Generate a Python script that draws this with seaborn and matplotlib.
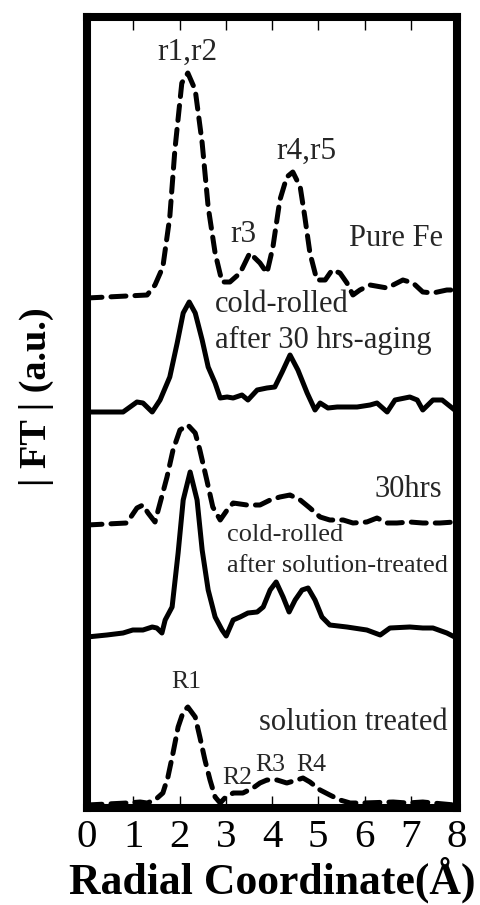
import matplotlib
matplotlib.use("Agg")
import matplotlib.pyplot as plt
import seaborn as sns
import pandas as pd

# ---- data (radial coordinate in Å, |FT| in a.u. with vertical offsets) ----
pure_fe_x = [0.0, 1.30, 1.47, 1.64, 1.79, 1.90, 2.05, 2.18, 2.34, 2.49, 2.62, 2.77, 2.92, 3.09, 3.31,
             3.52, 3.74, 3.89, 4.02, 4.17, 4.32, 4.45, 4.61, 4.71, 4.82, 4.97, 5.15, 5.30, 5.47, 5.62,
             5.75, 5.90, 6.12, 6.49, 6.83, 7.05, 7.26, 7.48, 7.78, 7.95]
pure_fe_y = [51.0, 51.3, 52.3, 54.1, 59.1, 65.8, 72.5, 73.5, 71.8, 66.5, 60.1, 55.5, 52.6, 52.6, 53.5,
             55.5, 54.5, 53.5, 56.1, 60.8, 63.1, 63.6, 62.1, 59.1, 55.5, 52.8, 52.8, 53.8, 53.5, 52.5,
             51.3, 51.8, 52.3, 52.0, 52.8, 52.5, 51.6, 51.5, 51.8, 51.8]

aged_x = [0.0, 0.78, 1.08, 1.21, 1.41, 1.58, 1.79, 1.95, 2.08, 2.21, 2.34, 2.49, 2.62, 2.77, 2.88,
          3.03, 3.16, 3.35, 3.48, 3.68, 3.89, 4.06, 4.22, 4.39, 4.56, 4.76, 4.93, 5.04, 5.21, 5.41,
          5.62, 5.84, 6.12, 6.27, 6.49, 6.66, 6.98, 7.14, 7.26, 7.48, 7.68, 7.95]
aged_y = [39.6, 39.6, 40.6, 40.5, 39.6, 40.8, 43.1, 46.5, 49.5, 50.6, 49.5, 46.8, 44.1, 42.5, 41.0,
          41.1, 41.0, 41.3, 40.8, 41.8, 42.0, 42.1, 43.6, 45.3, 43.8, 41.5, 39.8, 40.5, 40.0, 40.1,
          40.1, 40.1, 40.3, 40.5, 39.6, 40.8, 41.1, 40.8, 39.8, 40.8, 40.8, 39.8]

hrs30_x = [0.0, 0.86, 1.08, 1.21, 1.32, 1.47, 1.58, 1.73, 1.86, 2.01, 2.18, 2.34, 2.44, 2.59, 2.72,
           2.88, 3.03, 3.16, 3.46, 3.74, 3.96, 4.17, 4.39, 4.61, 4.82, 5.04, 5.25, 5.54, 5.75, 6.05,
           6.27, 6.49, 6.70, 6.98, 7.26, 7.63, 7.95]
hrs30_y = [28.3, 28.5, 30.0, 30.3, 29.5, 28.6, 30.5, 33.1, 35.8, 37.8, 38.3, 37.5, 35.8, 32.8, 30.1,
           28.8, 29.8, 30.5, 30.3, 30.3, 30.8, 31.1, 31.3, 30.8, 30.0, 29.1, 28.8, 28.8, 28.5, 28.6,
           29.0, 28.5, 28.5, 28.6, 28.5, 28.5, 28.6]

cr_st_x = [0.0, 0.43, 0.78, 0.99, 1.21, 1.41, 1.51, 1.62, 1.69, 1.84, 1.97, 2.08, 2.23, 2.38, 2.49,
           2.62, 2.77, 2.92, 3.01, 3.16, 3.31, 3.48, 3.68, 3.81, 3.96, 4.09, 4.24, 4.37, 4.50, 4.65,
           4.78, 4.93, 5.08, 5.25, 5.62, 6.05, 6.34, 6.55, 6.98, 7.26, 7.48, 7.78, 7.95]
cr_st_y = [17.1, 17.3, 17.5, 17.8, 17.8, 18.1, 18.0, 17.5, 18.8, 20.1, 25.5, 30.8, 33.6, 30.8, 25.8,
           21.8, 19.1, 17.8, 17.2, 18.8, 19.1, 19.5, 19.6, 20.1, 21.8, 22.6, 21.1, 19.6, 20.8, 21.8,
           22.0, 20.8, 19.1, 18.3, 18.1, 17.8, 17.3, 18.0, 18.1, 18.0, 18.0, 17.5, 17.1]

sol_x = [0.0, 0.86, 1.15, 1.30, 1.47, 1.64, 1.75, 1.86, 1.97, 2.08, 2.18, 2.34, 2.44, 2.55, 2.66,
         2.77, 2.88, 2.98, 3.16, 3.37, 3.59, 3.74, 3.89, 4.11, 4.32, 4.54, 4.67, 4.82, 5.04, 5.25,
         5.47, 5.69, 5.97, 6.62, 6.92, 7.26, 7.48, 7.95]
sol_y = [0.3, 0.5, 0.6, 0.5, 0.8, 1.5, 3.1, 5.5, 8.1, 9.6, 10.1, 9.1, 7.1, 4.8, 2.8,
         1.1, 0.5, 1.0, 1.5, 1.5, 2.0, 2.5, 2.8, 2.8, 2.5, 2.8, 3.0, 2.6, 1.8, 1.3,
         0.8, 0.5, 0.5, 0.6, 0.5, 0.6, 0.5, 0.3]

x_ticks = [0, 1, 2, 3, 4, 5, 6, 7, 8]

# ---- figure ----
sns.set_theme(style="white")
plt.rcParams['font.family'] = ['Liberation Serif', 'DejaVu Serif']

fig = plt.figure(figsize=(4.8, 9.05), dpi=100)
ax = fig.add_axes([87 / 480, 97 / 905, 370 / 480, 791 / 905])

dash = (0, (3.0, 1.8))
series = [
    (pure_fe_x, pure_fe_y, dash),
    (aged_x, aged_y, '-'),
    (hrs30_x, hrs30_y, dash),
    (cr_st_x, cr_st_y, '-'),
    (sol_x, sol_y, dash),
]
for xs, ys, ls in series:
    df = pd.DataFrame({"r": xs, "ft": ys})
    sns.lineplot(data=df, x="r", y="ft", ax=ax, sort=False, estimator=None,
                 color='black', linewidth=3.6, linestyle=ls, solid_joinstyle='round',
                 dash_capstyle='round')

ax.set_xlim(0, 8)
ax.set_ylim(0, 79.1)
ax.set_xticks(x_ticks)
ax.set_xticklabels([str(t) for t in x_ticks], fontsize=29.5)
ax.set_yticks([])
ax.tick_params(axis='x', direction='in', length=9, width=1.0, top=True, bottom=True,
               pad=8, color='black', labelcolor='black')
for sp in ax.spines.values():
    sp.set_linewidth(5.8)
    sp.set_color('black')

ax.set_xlabel('Radial Coordinate(Å)', fontsize=31.5, fontweight='bold', labelpad=0, color='black')
ax.set_ylabel('| FT | (a.u.)', fontsize=27.5, fontweight='bold', color='black')
ax.yaxis.set_label_coords(-0.09, 0.52)

fs = 22
ax.text(2.16, 75.6, 'r1,r2', ha='center', va='center', fontsize=22.5)
ax.text(3.39, 57.3, 'r3', ha='center', va='center', fontsize=22.5)
ax.text(4.74, 65.7, 'r4,r5', ha='center', va='center', fontsize=22.5)
ax.text(6.68, 57.0, 'Pure Fe', ha='center', va='center', fontsize=fs)
ax.text(2.77, 50.4, 'cold-rolled', ha='left', va='center', fontsize=fs)
ax.text(2.77, 46.8, 'after 30 hrs-aging', ha='left', va='center', fontsize=fs)
ax.text(6.94, 31.9, '30hrs', ha='center', va='center', fontsize=fs)
ax.text(3.03, 27.3, 'cold-rolled', ha='left', va='center', fontsize=19)
ax.text(3.03, 24.2, 'after solution-treated', ha='left', va='center', fontsize=19)
ax.text(2.14, 12.6, 'R1', ha='center', va='center', fontsize=18.5)
ax.text(5.75, 8.6, 'solution treated', ha='center', va='center', fontsize=fs)
ax.text(3.26, 3.0, 'R2', ha='center', va='center', fontsize=18.5)
ax.text(3.96, 4.3, 'R3', ha='center', va='center', fontsize=18.5)
ax.text(4.84, 4.3, 'R4', ha='center', va='center', fontsize=18.5)

fig.savefig('out.png', dpi=100)
